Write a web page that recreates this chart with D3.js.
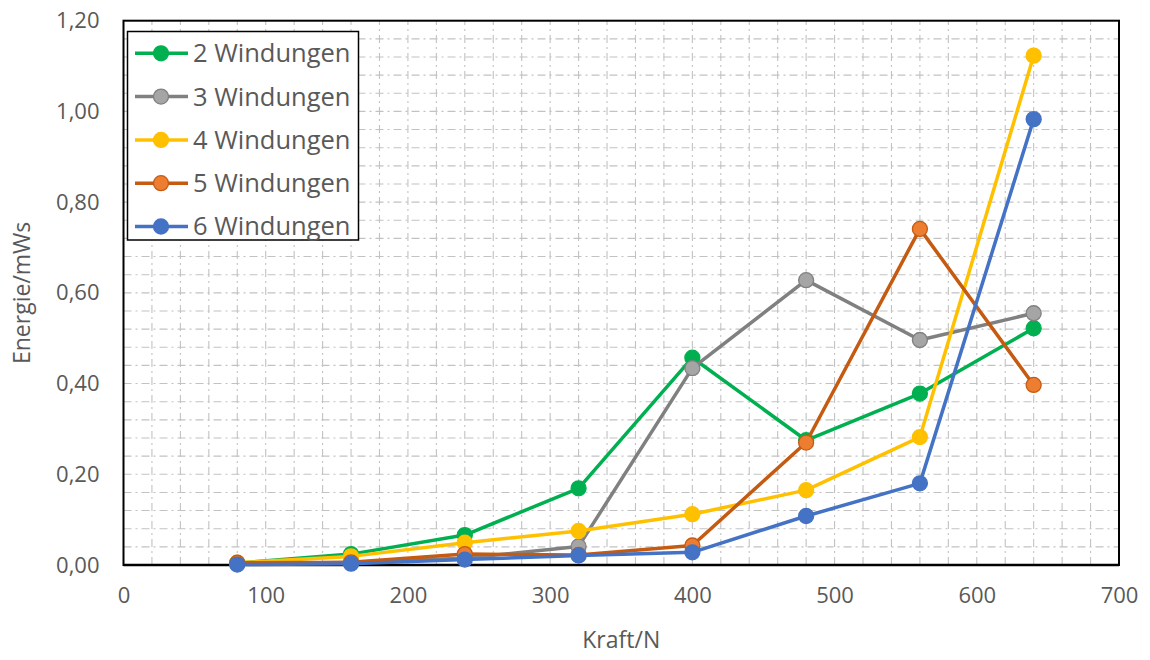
<!DOCTYPE html>
<html>
<head>
<meta charset="utf-8">
<script src="https://cdn.jsdelivr.net/npm/d3@7"></script>
<style>
  html, body { margin: 0; padding: 0; background: #fff; }
  svg { display: block; font-family: "Open Sans", "Liberation Sans", sans-serif; }
</style>
</head>
<body>
<svg id="chart" width="1150" height="660"></svg>
<script>
// ---- data ----
const kraft = [80, 160, 240, 320, 400, 480, 560, 640];
const seriesNames = ["2 Windungen", "3 Windungen", "4 Windungen", "5 Windungen", "6 Windungen"];
const w2 = [0.004, 0.024, 0.066, 0.169, 0.457, 0.275, 0.378, 0.522];
const w3 = [0.002, 0.006, 0.015, 0.041, 0.434, 0.628, 0.496, 0.555];
const w4 = [0.005, 0.019, 0.049, 0.075, 0.112, 0.165, 0.282, 1.123];
const w5 = [0.005, 0.006, 0.024, 0.022, 0.043, 0.270, 0.741, 0.397];
const w6 = [0.001, 0.003, 0.012, 0.021, 0.028, 0.108, 0.180, 0.983];
const xTicks = [0, 100, 200, 300, 400, 500, 600, 700];
const yTicks = [0, 0.2, 0.4, 0.6, 0.8, 1.0, 1.2];
const lineColors = ["#00B050", "#808080", "#FFC000", "#C55A11", "#4472C4"];
const markerFill = ["#00B050", "#A5A5A5", "#FFC000", "#ED7D31", "#4472C4"];
const markerStroke = ["#00B050", "#808080", "#FFC000", "#C55A11", "#4472C4"];

(function () {
const allValues = [w2, w3, w4, w5, w6];
const series = seriesNames.map((name, i) => ({
  name, color: lineColors[i], fill: markerFill[i], stroke: markerStroke[i],
  points: kraft.map((k, j) => ({ x: k, y: allValues[i][j] }))
}));

// ---- layout ----
const svg = d3.select("#chart");
const pL = 123.5, pR = 1119, pT = 20.7, pB = 565;
const x = d3.scaleLinear().domain([0, 700]).range([pL, pR]);
const y = d3.scaleLinear().domain([0, 1.2]).range([pB, pT]);

// ---- grid ----
const grid = svg.append("g");
const gridStyle = { stroke: "#c2c2c2", width: 1.1, dash: "8,4,2,4" };
grid.selectAll("line.v").data(d3.range(20, 700, 20)).join("line")
  .attr("x1", d => x(d)).attr("x2", d => x(d))
  .attr("y1", pB).attr("y2", pT)
  .attr("stroke", gridStyle.stroke).attr("stroke-width", gridStyle.width)
  .attr("stroke-dasharray", gridStyle.dash);
grid.selectAll("line.h").data(d3.range(1, 30).map(i => i * 0.04)).join("line")
  .attr("y1", d => y(d)).attr("y2", d => y(d))
  .attr("x1", pL).attr("x2", pR)
  .attr("stroke", gridStyle.stroke).attr("stroke-width", gridStyle.width)
  .attr("stroke-dasharray", gridStyle.dash);

// ---- plot border ----
svg.append("rect").attr("x", pL).attr("y", pT)
  .attr("width", pR - pL).attr("height", pB - pT)
  .attr("fill", "none").attr("stroke", "#000").attr("stroke-width", 2);
svg.append("line").attr("x1", pL).attr("x2", pR).attr("y1", pB).attr("y2", pB)
  .attr("stroke", "#000").attr("stroke-width", 2.5);

// ---- axes ----
const fmt = d => d3.format(".2f")(d).replace(".", ",");
const yAxis = svg.append("g").attr("transform", `translate(${pL - 24},0)`)
  .call(d3.axisLeft(y).tickValues(yTicks).tickFormat(fmt).tickSize(0).tickPadding(0));
yAxis.select(".domain").remove();
yAxis.selectAll("text").attr("fill", "#595959").attr("font-size", 22)
  .attr("font-family", "'Open Sans', sans-serif");

const xAxis = svg.append("g").attr("transform", `translate(0,${pB + 22})`)
  .call(d3.axisBottom(x).tickValues(xTicks).tickFormat(d3.format("d")).tickSize(0).tickPadding(0));
xAxis.select(".domain").remove();
xAxis.selectAll("text").attr("fill", "#595959").attr("font-size", 22)
  .attr("font-family", "'Open Sans', sans-serif");

svg.append("text").attr("x", (pL + pR) / 2).attr("y", 648)
  .attr("text-anchor", "middle").attr("fill", "#595959").attr("font-size", 23)
  .text("Kraft/N");
svg.append("text")
  .attr("transform", `translate(30,${(pT + pB) / 2}) rotate(-90)`)
  .attr("text-anchor", "middle").attr("fill", "#595959").attr("font-size", 23)
  .text("Energie/mWs");

// ---- lines & markers ----
const line = d3.line().x(d => x(d.x)).y(d => y(d.y));
const sg = svg.append("g").selectAll("g").data(series).join("g");
sg.append("path").attr("d", d => line(d.points))
  .attr("fill", "none").attr("stroke", d => d.color).attr("stroke-width", 3.5)
  .attr("stroke-linejoin", "round");
sg.selectAll("circle").data(d => d.points.map(p => ({ ...p, s: d }))).join("circle")
  .attr("cx", d => x(d.x)).attr("cy", d => y(d.y)).attr("r", 7.5)
  .attr("fill", d => d.s.fill).attr("stroke", d => d.s.stroke).attr("stroke-width", 1.3);

// ---- legend ----
const lg = svg.append("g");
lg.append("rect").attr("x", 127.5).attr("y", 31.5).attr("width", 231).attr("height", 208.5)
  .attr("fill", "#fff").attr("stroke", "#000").attr("stroke-width", 1.5);
const li = lg.selectAll("g.item").data(series).join("g")
  .attr("transform", (d, i) => `translate(0,${53.3 + i * 43.3})`);
li.append("line").attr("x1", 135).attr("x2", 188).attr("y1", 0).attr("y2", 0)
  .attr("stroke", d => d.color).attr("stroke-width", 3.5);
li.append("circle").attr("cx", 161).attr("cy", 0).attr("r", 7.5)
  .attr("fill", d => d.fill).attr("stroke", d => d.stroke).attr("stroke-width", 1.3);
li.append("text").attr("x", 193).attr("y", 0).attr("dy", "0.35em")
  .attr("fill", "#595959").attr("font-size", 25.5)
  .text(d => d.name);
})();
</script>
</body>
</html>
